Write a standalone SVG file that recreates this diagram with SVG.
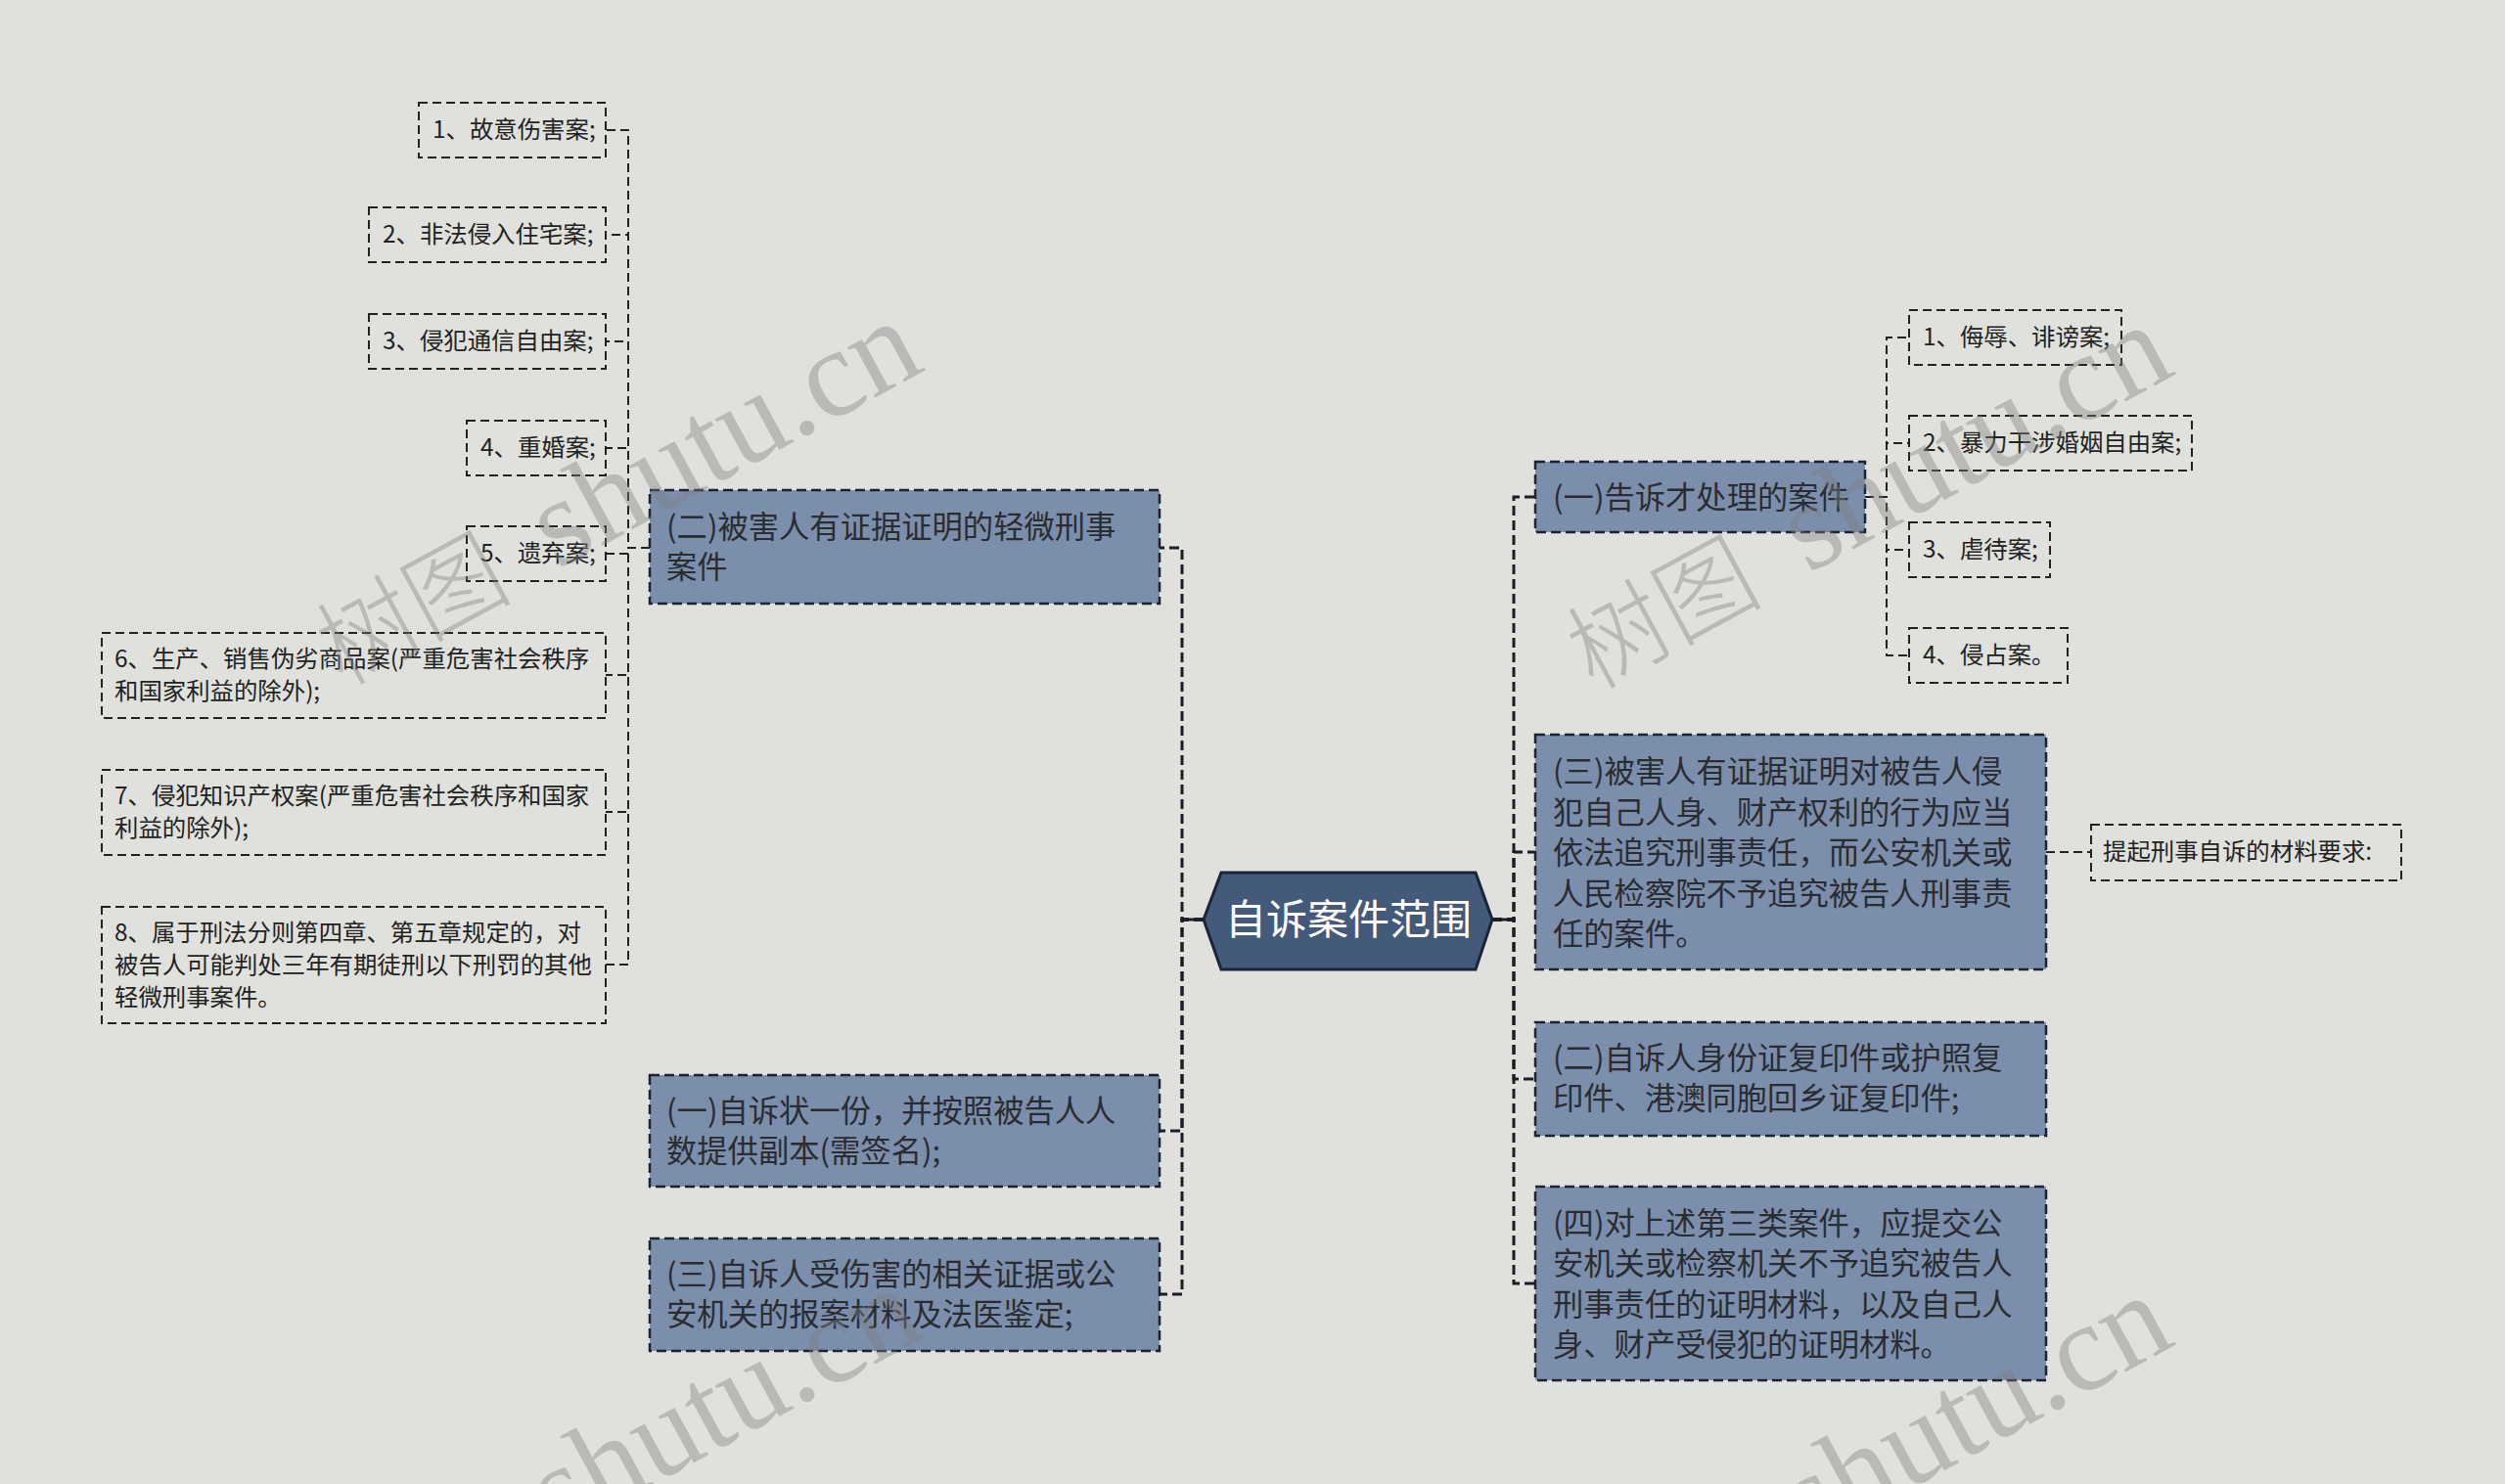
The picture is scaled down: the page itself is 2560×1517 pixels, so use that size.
<svg xmlns="http://www.w3.org/2000/svg" width="2560" height="1517" viewBox="0 0 2560 1517">
<style>
.bg{fill:#e0e1dc}
.main{fill:#7b8eab;stroke:#1c2230;stroke-width:2.5;stroke-dasharray:10 5}
.leaf{fill:none;stroke:#222;stroke-width:2;stroke-dasharray:9 5}
.t2{font-family:"Noto Sans CJK SC","Noto Sans",sans-serif;font-size:31.3px;fill:#2a2c30}
.t3{font-family:"Noto Sans CJK SC","Noto Sans",sans-serif;font-size:24.4px;fill:#222}
.trunk{fill:none;stroke:#1a1d26;stroke-width:3;stroke-dasharray:10 5}
.sub{fill:none;stroke:#222;stroke-width:2;stroke-dasharray:9 5}
.wm{font-family:"Liberation Serif","Noto Sans CJK SC",serif;fill:#7f7f7f;fill-opacity:0.4}
</style>
<rect class="bg" x="0" y="0" width="2560" height="1517"/>

<g id="connectors">
  <path d="M1208,940 H1230 M1525,940 H1547" fill="none" stroke="#1a1d26" stroke-width="3"/>
  <path class="trunk" d="M1230,940 H1208 V560 H1185"/>
  <path class="trunk" d="M1230,940 H1208 V1156 H1185"/>
  <path class="trunk" d="M1230,940 H1208 V1323 H1185"/>
  <path class="trunk" d="M1525,940 H1547 V508 H1569"/>
  <path class="trunk" d="M1525,940 H1547 V871 H1569"/>
  <path class="trunk" d="M1525,940 H1547 V1103 H1569"/>
  <path class="trunk" d="M1525,940 H1547 V1312 H1569"/>
  <path class="sub" d="M664,560 H642 V133 H619"/>
  <path class="sub" d="M664,560 H642 V240 H619"/>
  <path class="sub" d="M664,560 H642 V349 H619"/>
  <path class="sub" d="M664,560 H642 V458 H619"/>
  <path class="sub" d="M664,560 H642 V566 H619"/>
  <path class="sub" d="M664,560 H642 V690 H619"/>
  <path class="sub" d="M664,560 H642 V830 H619"/>
  <path class="sub" d="M664,560 H642 V986 H619"/>
  <path class="sub" d="M1906,508 H1928 V345 H1951"/>
  <path class="sub" d="M1906,508 H1928 V453 H1951"/>
  <path class="sub" d="M1906,508 H1928 V562 H1951"/>
  <path class="sub" d="M1906,508 H1928 V670 H1951"/>
  <path class="sub" d="M2091,871 H2137"/>
</g>

<g id="center">
  <polygon points="1230,940 1248,892 1508,892 1525,940 1508,991 1248,991" fill="#435a7b" stroke="#1b2538" stroke-width="3"/>
  <text x="1378" y="955" text-anchor="middle" font-family="Noto Sans CJK SC, sans-serif" font-size="42" fill="#ffffff">自诉案件范围</text>
</g>

<g id="L-er">
  <rect class="main" x="664" y="501" width="521" height="116"/>
  <text class="t2" x="681" y="550">(二)被害人有证据证明的轻微刑事</text>
  <text class="t2" x="681" y="591">案件</text>
</g>
<g id="L-yi">
  <rect class="main" x="664" y="1099" width="521" height="114"/>
  <text class="t2" x="681" y="1147">(一)自诉状一份，并按照被告人人</text>
  <text class="t2" x="681" y="1188">数提供副本(需签名);</text>
</g>
<g id="L-san">
  <rect class="main" x="664" y="1266" width="521" height="115"/>
  <text class="t2" x="681" y="1314">(三)自诉人受伤害的相关证据或公</text>
  <text class="t2" x="681" y="1355">安机关的报案材料及法医鉴定;</text>
</g>

<g id="L1"><rect class="leaf" x="428" y="105" width="191" height="56"/><text class="t3" x="442" y="141">1、故意伤害案;</text></g>
<g id="L2"><rect class="leaf" x="377" y="212" width="242" height="56"/><text class="t3" x="391" y="248">2、非法侵入住宅案;</text></g>
<g id="L3"><rect class="leaf" x="377" y="321" width="242" height="56"/><text class="t3" x="391" y="357">3、侵犯通信自由案;</text></g>
<g id="L4"><rect class="leaf" x="477" y="430" width="142" height="56"/><text class="t3" x="491" y="466">4、重婚案;</text></g>
<g id="L5"><rect class="leaf" x="477" y="538" width="142" height="56"/><text class="t3" x="491" y="574">5、遗弃案;</text></g>
<g id="L6"><rect class="leaf" x="104" y="647" width="515" height="87"/>
  <text class="t3" x="117" y="682">6、生产、销售伪劣商品案(严重危害社会秩序</text>
  <text class="t3" x="117" y="715">和国家利益的除外);</text></g>
<g id="L7"><rect class="leaf" x="104" y="787" width="515" height="87"/>
  <text class="t3" x="117" y="822">7、侵犯知识产权案(严重危害社会秩序和国家</text>
  <text class="t3" x="117" y="855">利益的除外);</text></g>
<g id="L8"><rect class="leaf" x="104" y="927" width="515" height="119"/>
  <text class="t3" x="117" y="962">8、属于刑法分则第四章、第五章规定的，对</text>
  <text class="t3" x="117" y="995">被告人可能判处三年有期徒刑以下刑罚的其他</text>
  <text class="t3" x="117" y="1028">轻微刑事案件。</text></g>

<g id="R-yi">
  <rect class="main" x="1569" y="472" width="337" height="72"/>
  <text class="t2" x="1587" y="520">(一)告诉才处理的案件</text>
</g>
<g id="R-san">
  <rect class="main" x="1569" y="751" width="522" height="240"/>
  <text class="t2" x="1587" y="800">(三)被害人有证据证明对被告人侵</text>
  <text class="t2" x="1587" y="841.5">犯自己人身、财产权利的行为应当</text>
  <text class="t2" x="1587" y="883">依法追究刑事责任，而公安机关或</text>
  <text class="t2" x="1587" y="924.5">人民检察院不予追究被告人刑事责</text>
  <text class="t2" x="1587" y="966">任的案件。</text>
</g>
<g id="R-er">
  <rect class="main" x="1569" y="1045" width="522" height="116"/>
  <text class="t2" x="1587" y="1093">(二)自诉人身份证复印件或护照复</text>
  <text class="t2" x="1587" y="1134">印件、港澳同胞回乡证复印件;</text>
</g>
<g id="R-si">
  <rect class="main" x="1569" y="1213" width="522" height="198"/>
  <text class="t2" x="1587" y="1261.5">(四)对上述第三类案件，应提交公</text>
  <text class="t2" x="1587" y="1303">安机关或检察机关不予追究被告人</text>
  <text class="t2" x="1587" y="1344.5">刑事责任的证明材料，以及自己人</text>
  <text class="t2" x="1587" y="1386">身、财产受侵犯的证明材料。</text>
</g>

<g id="R1"><rect class="leaf" x="1951" y="317" width="217" height="56"/><text class="t3" x="1965" y="353">1、侮辱、诽谤案;</text></g>
<g id="R2"><rect class="leaf" x="1951" y="425" width="289" height="56"/><text class="t3" x="1965" y="461">2、暴力干涉婚姻自由案;</text></g>
<g id="R3"><rect class="leaf" x="1951" y="534" width="144" height="56"/><text class="t3" x="1965" y="570">3、虐待案;</text></g>
<g id="R4"><rect class="leaf" x="1951" y="642" width="162" height="56"/><text class="t3" x="1965" y="678">4、侵占案。</text></g>
<g id="R5"><rect class="leaf" x="2137" y="843" width="317" height="57"/><text class="t3" x="2149" y="879">提起刑事自诉的材料要求:</text></g>

<g id="watermark">
  <text class="wm" transform="translate(350,702) rotate(-28.5)"><tspan font-size="100" font-family="Noto Sans CJK SC" font-weight="300">树图</tspan><tspan font-size="128" dx="18"> shutu.cn</tspan></text>
  <text class="wm" transform="translate(1628,706) rotate(-28.5)"><tspan font-size="100" font-family="Noto Sans CJK SC" font-weight="300">树图</tspan><tspan font-size="128" dx="18"> shutu.cn</tspan></text>
  <text class="wm" transform="translate(350,1690) rotate(-28.5)"><tspan font-size="100" font-family="Noto Sans CJK SC" font-weight="300">树图</tspan><tspan font-size="128" dx="18"> shutu.cn</tspan></text>
  <text class="wm" transform="translate(1628,1698) rotate(-28.5)"><tspan font-size="100" font-family="Noto Sans CJK SC" font-weight="300">树图</tspan><tspan font-size="128" dx="18"> shutu.cn</tspan></text>
</g>
</svg>
